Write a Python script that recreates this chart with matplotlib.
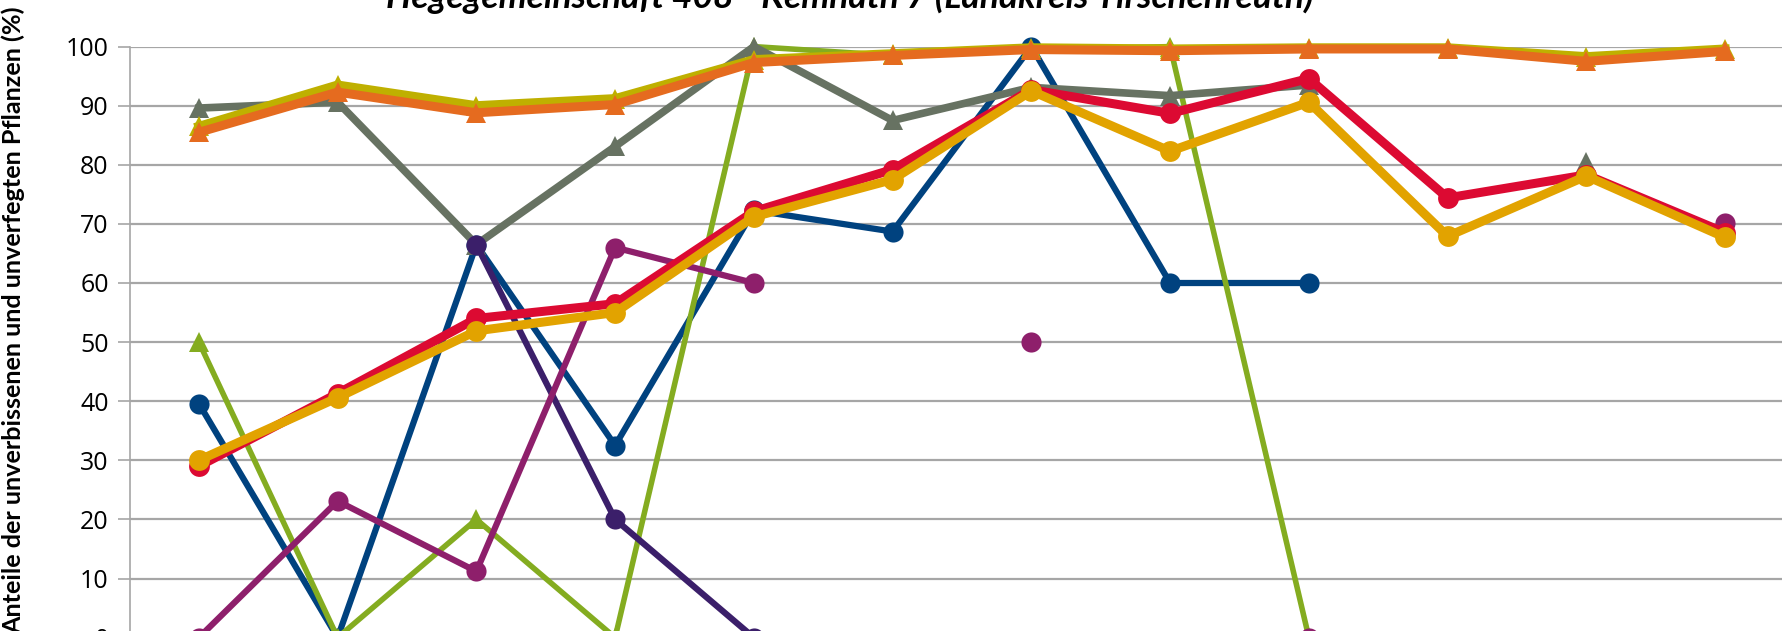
import numpy as np
import matplotlib
matplotlib.use("Agg")
import matplotlib.pyplot as plt

nan = np.nan
categories = list(range(12))

title = "Hegegemeinschaft 408 - Kemnath 7 (Landkreis Tirschenreuth)"
ylabel = "Anteile der unverbissenen und unverfegten Pflanzen (%)"
yticks = [0, 10, 20, 30, 40, 50, 60, 70, 80, 90, 100]

blue = [39.6, 0, 66.5, 32.5, 72.3, 68.7, 100, 60, 60, nan, nan, nan]
green = [50, 0, 20, 0, 100, 98.5, 99.5, 100, 0, nan, nan, nan]
gray = [89.6, 90.6, 66.5, 83.1, 100, 87.5, 93.1, 91.7, 93.5, nan, 80.4, nan]
olive = [86.5, 93.5, 90.0, 91.2, 97.8, 98.8, 99.8, 99.6, 99.8, 99.8, 98.3, 99.6]
orange = [85.5, 92.3, 88.8, 90.2, 97.3, 98.5, 99.5, 99.3, 99.6, 99.6, 97.5, 99.2]
dpurple = [nan, nan, 66.5, 20, 0, nan, nan, nan, nan, nan, nan, nan]
magenta = [0, 23.1, 11.2, 66.0, 60, nan, 50, nan, 0, nan, nan, 70.2]
red = [29.0, 41.3, 54.0, 56.5, 72.1, 79.2, 92.7, 88.7, 94.6, 74.4, 78.3, 68.5]
yellow = [30.0, 40.6, 51.9, 55.0, 71.2, 77.5, 92.5, 82.3, 90.6, 67.9, 78.1, 67.7]

series = [
    (blue, "#00427F", "o", 4.5, 14.5),
    (green, "#84AC20", "^", 4.0, 15),
    (gray, "#677262", "^", 5.5, 15),
    (olive, "#BFB000", "^", 6.5, 15),
    (orange, "#E56B1F", "^", 6.5, 15),
    (dpurple, "#3B1F6A", "o", 4.5, 14.5),
    (magenta, "#8E1F6B", "o", 4.5, 14.5),
    (red, "#DC0A32", "o", 6.5, 15),
    (yellow, "#E2A300", "o", 6.5, 15),
]

W, H = 1782, 631
fig = plt.figure(figsize=(W / 100, H / 100), dpi=100)
left = 129.5 / W
width = 12 * 138.75 / W
y100 = 46.6
y0 = 637.6
ax = fig.add_axes([left, 1 - y0 / H, width, (y0 - y100) / H])

for vals, col, mk, lw, ms in series:
    ax.plot(categories, vals, color=col, marker=mk, lw=lw, ms=ms,
            markeredgewidth=0, clip_on=False, solid_joinstyle="miter")

ax.set_xlim(-0.5, 11.5)
ax.set_ylim(0, 100)
ax.set_yticks(yticks)
ax.set_yticklabels([str(t) for t in yticks], fontfamily="Open Sans", fontsize=18)
ax.set_xticks([])
ax.yaxis.grid(True, color="#A6A6A6", lw=1.6)
ax.set_axisbelow(True)
for s in ["top", "right", "bottom"]:
    ax.spines[s].set_visible(False)
ax.spines["left"].set_color("#A6A6A6")
ax.spines["left"].set_linewidth(1.2)
ax.tick_params(axis="y", length=9, width=1.2, color="#A6A6A6", pad=6)

fig.text(850 / W, 1 - 8 / H, title, ha="center", va="baseline",
         fontfamily="Lato", fontweight="bold", fontstyle="italic", fontsize=25.5)
fig.text(13.6 / W, 1 - 320 / H, ylabel, rotation=90, ha="center", va="center",
         fontfamily="Lato", fontweight="bold", fontsize=18.2)

fig.savefig("out.png", dpi=100)
